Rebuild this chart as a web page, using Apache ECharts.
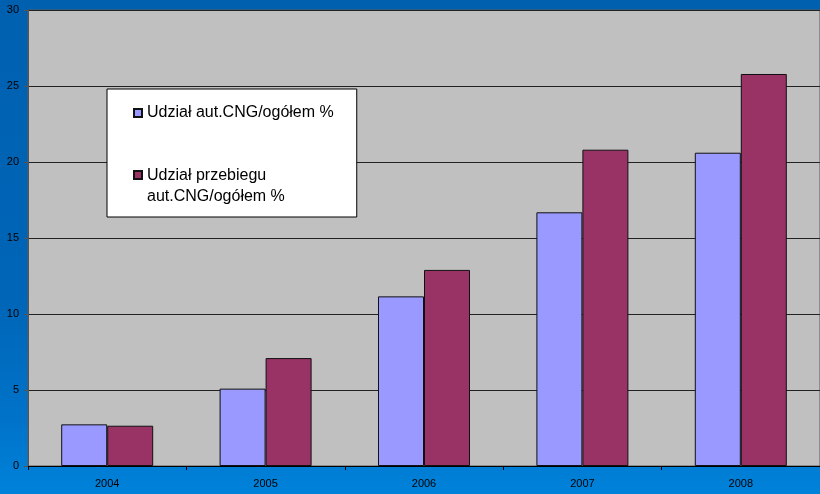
<!DOCTYPE html>
<html>
<head>
<meta charset="utf-8">
<script src="https://cdn.jsdelivr.net/npm/echarts@6/dist/echarts.min.js"></script>
<style>
  html, body { margin: 0; padding: 0; }
  #chart { width: 820px; height: 494px; }
</style>
</head>
<body>
<div id="chart"></div>
<script>
// Years on the category axis
const years = ['2004', '2005', '2006', '2007', '2008'];

// Share of CNG vehicles in the whole fleet, %
const vehicleShare = [2.74, 5.09, 11.16, 16.69, 20.61];

// Share of mileage driven by CNG vehicles, %
const mileageShare = [2.65, 7.1, 12.9, 20.81, 25.79];

// Value axis ticks
const yMin = 0, yMax = 30, yStep = 5;

const seriesNames = ['Udział aut.CNG/ogółem %', 'Udział przebiegu\naut.CNG/ogółem %'];

const FONT = '"Liberation Sans", Arial, sans-serif';

// Legend markers: a square inside a 8x30 box; first entry centred, second one on its first text line
const iconCentered = 'path://M0,0M8,30M0,11h8v8h-8z';
const iconTop = 'path://M0,30M8,0M0,0h8v8h-8z';

const chart = echarts.init(document.getElementById('chart'), null, { renderer: 'canvas' });

chart.setOption({
  animation: false,
  backgroundColor: {
    type: 'linear', x: 0, y: 0, x2: 0, y2: 1,
    colorStops: [
      { offset: 0, color: '#0060b0' },
      { offset: 0.6, color: '#0065b7' },
      { offset: 0.85, color: '#0073c9' },
      { offset: 1, color: '#0082da' }
    ]
  },
  textStyle: { fontFamily: FONT },
  grid: {
    left: 28, top: 10, right: -3, bottom: 28,
    show: true,
    backgroundColor: '#c0c0c0',
    borderColor: '#5a5a5a',
    borderWidth: 1
  },
  legend: {
    orient: 'vertical',
    left: 107, top: 89,
    padding: [8, 23, 10, 26],
    backgroundColor: '#ffffff',
    borderColor: '#000000',
    borderWidth: 1,
    itemWidth: 8,
    itemHeight: 30,
    itemGap: 36,
    selectedMode: false,
    textStyle: { fontFamily: FONT, fontSize: 16, lineHeight: 21, color: '#000' },
    data: [
      { name: seriesNames[0], icon: iconCentered },
      { name: seriesNames[1], icon: iconTop }
    ]
  },
  xAxis: {
    type: 'category',
    data: years,
    boundaryGap: true,
    axisLine: { lineStyle: { color: '#000', width: 1 } },
    axisTick: { show: true, length: 4, lineStyle: { color: '#000' } },
    axisLabel: { color: '#000', fontSize: 11, margin: 12, fontFamily: FONT },
    splitLine: { show: false }
  },
  yAxis: {
    type: 'value',
    min: yMin, max: yMax, interval: yStep,
    axisLine: { show: true, lineStyle: { color: '#555', width: 1 } },
    axisTick: { show: true, length: 4, lineStyle: { color: '#555' } },
    axisLabel: { color: '#000', fontSize: 11, margin: 9, fontFamily: FONT },
    splitLine: { show: true, lineStyle: { color: '#222', width: 1 } }
  },
  series: [
    {
      name: seriesNames[0],
      type: 'bar',
      data: vehicleShare,
      barWidth: 46,
      barGap: '0%',
      itemStyle: { color: '#9999ff', borderColor: '#111', borderWidth: 1 }
    },
    {
      name: seriesNames[1],
      type: 'bar',
      data: mileageShare,
      barWidth: 46,
      barGap: '0%',
      itemStyle: { color: '#993366', borderColor: '#111', borderWidth: 1 }
    }
  ]
});
</script>
</body>
</html>
